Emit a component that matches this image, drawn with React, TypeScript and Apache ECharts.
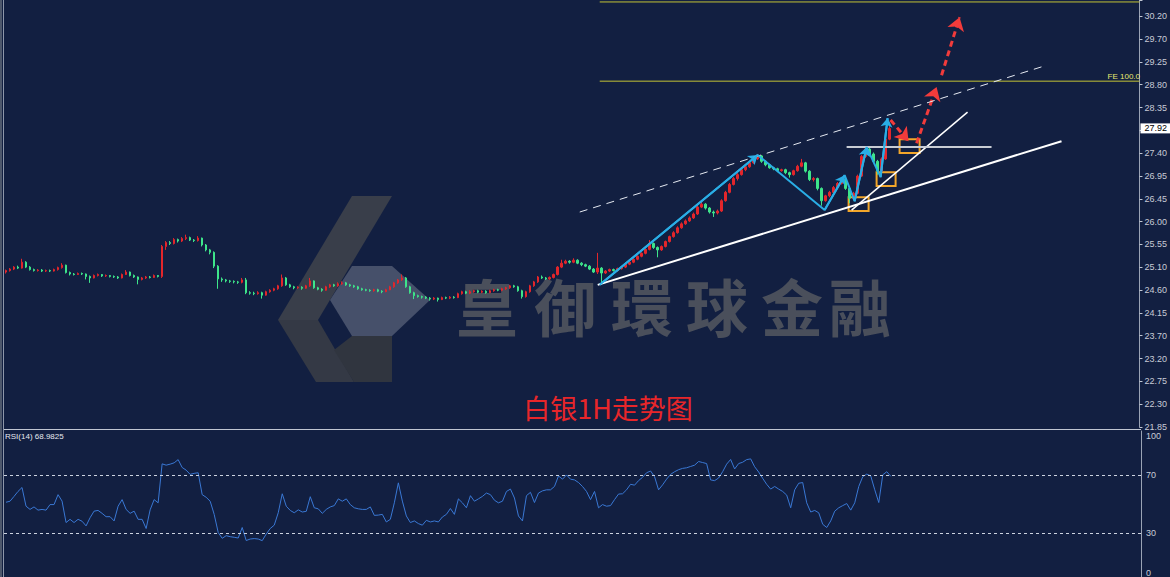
import React, { useEffect, useRef } from 'react';
import * as echarts from 'echarts';

// ---------- data ----------
const PRICE_MIN = 21.85;
const PRICE_MAX = 30.53;
const priceTickLabels = ['21.85', '22.30', '22.75', '23.20', '23.70', '24.15', '24.60', '25.10', '25.55', '26.00', '26.45', '26.95', '27.40', '27.85', '28.35', '28.80', '29.25', '29.70', '30.20'];
const rsiTickLabels = [0, 30, 70, 100];
const rsiLevels = [70, 30];
const SLOT_COUNT = 284;
const currentPrice = 27.92;
const rsiTitle = 'RSI(14) 68.9825';
const chartTitle = '白银1H走势图';
const watermarkChars = ['皇', '御', '環', '球', '金', '融'];

// [open, close, low, high]
const candles = [
  [25.00,25.03,24.97,25.05],[25.03,25.06,25.01,25.08],[25.06,25.10,25.04,25.12],[25.10,25.08,25.06,25.13],[25.08,25.20,25.07,25.27],
  [25.20,25.10,25.08,25.22],[25.10,25.05,25.03,25.12],[25.05,25.03,25.01,25.07],[25.03,25.04,25.01,25.06],[25.04,25.02,25.00,25.06],
  [25.02,25.03,25.00,25.05],[25.03,25.02,25.00,25.05],[25.02,25.05,25.01,25.07],[25.05,25.09,25.03,25.11],[25.09,25.14,25.07,25.18],
  [25.14,24.99,24.97,25.15],[24.99,24.96,24.93,25.01],[24.96,24.95,24.93,24.98],[24.95,24.97,24.94,24.99],[24.97,24.96,24.94,24.99],
  [24.96,24.91,24.85,24.97],[24.91,24.88,24.78,24.93],[24.88,24.93,24.87,24.95],[24.93,24.95,24.91,24.97],[24.95,24.92,24.90,24.96],
  [24.92,24.93,24.90,24.95],[24.93,24.91,24.89,24.94],[24.91,24.90,24.88,24.93],[24.90,24.88,24.86,24.92],[24.88,24.95,24.87,24.97],
  [24.95,25.00,24.94,25.04],[25.00,24.93,24.91,25.01],[24.93,24.90,24.88,24.95],[24.90,24.85,24.75,24.91],[24.85,24.88,24.83,24.90],
  [24.88,24.90,24.86,24.92],[24.90,24.89,24.87,24.92],[24.89,24.93,24.88,24.95],[24.93,24.91,24.89,24.94],[24.91,25.52,24.88,25.55],
  [25.52,25.60,25.45,25.63],[25.60,25.58,25.55,25.63],[25.58,25.66,25.56,25.69],[25.66,25.63,25.60,25.68],[25.63,25.68,25.61,25.71],
  [25.68,25.70,25.65,25.76],[25.70,25.65,25.63,25.72],[25.65,25.64,25.61,25.67],[25.64,25.69,25.62,25.73],[25.69,25.55,25.52,25.70],
  [25.55,25.45,25.42,25.57],[25.45,25.40,25.36,25.47],[25.40,25.12,25.08,25.42],[25.12,24.86,24.66,25.14],[24.86,24.84,24.80,24.89],
  [24.84,24.82,24.79,24.86],[24.82,24.81,24.78,24.84],[24.81,24.80,24.77,24.83],[24.80,24.79,24.76,24.82],[24.79,24.84,24.77,24.88],
  [24.84,24.58,24.55,24.88],[24.58,24.57,24.54,24.61],[24.57,24.56,24.53,24.60],[24.56,24.58,24.54,24.61],[24.58,24.53,24.46,24.60],
  [24.53,24.60,24.52,24.62],[24.60,24.63,24.58,24.65],[24.63,24.66,24.61,24.68],[24.66,24.72,24.64,24.74],[24.72,24.88,24.70,24.95],
  [24.88,24.74,24.72,24.90],[24.74,24.70,24.68,24.76],[24.70,24.68,24.65,24.72],[24.68,24.69,24.66,24.71],[24.69,24.67,24.64,24.71],
  [24.67,24.72,24.66,24.74],[24.72,24.82,24.70,24.88],[24.82,24.68,24.66,24.83],[24.68,24.65,24.63,24.70],[24.65,24.63,24.60,24.67],
  [24.63,24.70,24.62,24.72],[24.70,24.74,24.68,24.76],[24.74,24.72,24.70,24.76],[24.72,24.76,24.70,24.79],[24.76,24.78,24.74,24.81],
  [24.78,24.74,24.72,24.80],[24.74,24.72,24.70,24.76],[24.72,24.70,24.68,24.74],[24.70,24.66,24.64,24.72],[24.66,24.64,24.62,24.68],
  [24.64,24.63,24.61,24.66],[24.63,24.62,24.60,24.65],[24.62,24.64,24.60,24.66],[24.64,24.61,24.59,24.66],[24.61,24.60,24.57,24.63],
  [24.60,24.64,24.59,24.66],[24.64,24.70,24.63,24.72],[24.70,24.78,24.68,24.80],[24.78,24.84,24.76,24.86],[24.84,24.88,24.82,24.95],
  [24.88,24.70,24.68,24.90],[24.70,24.58,24.56,24.72],[24.58,24.52,24.45,24.60],[24.52,24.50,24.48,24.54],[24.50,24.49,24.46,24.52],
  [24.49,24.47,24.45,24.51],[24.47,24.45,24.42,24.49],[24.45,24.47,24.43,24.49],[24.47,24.44,24.40,24.48],[24.44,24.48,24.43,24.50],
  [24.48,24.47,24.45,24.50],[24.47,24.49,24.45,24.51],[24.49,24.48,24.46,24.51],[24.48,24.56,24.47,24.58],[24.56,24.60,24.54,24.62],
  [24.60,24.57,24.55,24.62],[24.57,24.60,24.55,24.63],[24.60,24.62,24.58,24.64],[24.62,24.59,24.57,24.64],[24.59,24.61,24.57,24.63],
  [24.61,24.58,24.56,24.63],[24.58,24.62,24.57,24.64],[24.62,24.64,24.60,24.66],[24.64,24.63,24.61,24.66],[24.63,24.66,24.61,24.68],
  [24.66,24.68,24.64,24.70],[24.68,24.72,24.66,24.74],[24.72,24.70,24.68,24.74],[24.70,24.62,24.60,24.72],[24.62,24.50,24.46,24.64],
  [24.50,24.60,24.48,24.62],[24.60,24.72,24.58,24.74],[24.72,24.80,24.70,24.82],[24.80,24.90,24.78,24.92],[24.90,24.88,24.86,24.93],
  [24.88,24.86,24.84,24.90],[24.86,24.89,24.84,24.91],[24.89,24.95,24.87,24.97],[24.95,25.10,24.93,25.12],[25.10,25.18,25.08,25.25],
  [25.18,25.22,25.16,25.25],[25.22,25.20,25.17,25.24],[25.20,25.24,25.18,25.28],[25.24,25.18,25.16,25.26],[25.18,25.15,25.12,25.20],
  [25.15,25.12,25.10,25.17],[25.12,25.06,25.04,25.14],[25.06,25.00,24.98,25.08],[25.00,25.08,24.96,25.39],[25.08,24.98,24.74,25.10],
  [24.98,25.02,24.96,25.04],[25.02,25.05,25.00,25.07],[25.05,25.03,25.01,25.07],[25.03,25.07,25.01,25.09],[25.07,25.10,25.05,25.12],
  [25.10,25.16,25.08,25.18],[25.16,25.20,25.14,25.22],[25.20,25.26,25.18,25.28],[25.26,25.32,25.24,25.34],[25.32,25.38,25.30,25.40],
  [25.38,25.46,25.36,25.48],[25.46,25.58,25.44,25.65],[25.58,25.50,25.47,25.60],[25.50,25.45,25.30,25.52],[25.45,25.52,25.43,25.54],
  [25.52,25.62,25.50,25.64],[25.62,25.72,25.60,25.74],[25.72,25.80,25.70,25.83],[25.80,25.90,25.78,25.93],[25.90,25.98,25.88,26.01],
  [25.98,26.04,25.96,26.07],[26.04,26.10,26.02,26.13],[26.10,26.18,26.08,26.21],[26.18,26.32,26.16,26.35],[26.32,26.38,26.30,26.45],
  [26.38,26.30,26.27,26.40],[26.30,26.22,26.19,26.32],[26.22,26.20,26.12,26.25],[26.20,26.24,26.17,26.27],[26.24,26.45,26.22,26.48],
  [26.45,26.62,26.43,26.65],[26.62,26.78,26.60,26.81],[26.78,26.90,26.76,26.93],[26.90,26.98,26.86,27.01],[26.98,27.08,26.96,27.11],
  [27.08,27.14,27.05,27.17],[27.14,27.22,27.12,27.25],[27.22,27.30,27.20,27.33],[27.30,27.36,27.28,27.40],[27.36,27.25,27.22,27.38],
  [27.25,27.18,27.15,27.27],[27.18,27.12,27.10,27.20],[27.12,27.10,27.07,27.14],[27.10,27.06,27.03,27.12],[27.06,27.08,27.04,27.10],
  [27.08,27.02,26.99,27.10],[27.02,26.98,26.92,27.04],[26.98,27.06,26.96,27.08],[27.06,27.15,27.04,27.18],[27.15,27.22,27.13,27.30],
  [27.22,27.05,27.02,27.24],[27.05,26.88,26.85,27.07],[26.88,26.90,26.84,26.93],[26.90,26.70,26.66,26.92],[26.70,26.45,26.35,26.72],
  [26.45,26.55,26.43,26.57],[26.55,26.62,26.52,26.65],[26.62,26.72,26.60,26.75],[26.72,26.80,26.70,26.83],[26.80,26.88,26.78,26.92],
  [26.88,26.70,26.67,26.90],[26.70,26.50,26.40,26.72],[26.50,26.60,26.46,26.63],[26.60,26.95,26.58,26.98],[26.95,27.35,26.93,27.38],
  [27.35,27.50,27.32,27.56],[27.50,27.40,27.37,27.53],[27.40,27.25,27.22,27.43],[27.25,27.05,26.98,27.28],[27.05,27.30,27.03,27.33],
  [27.30,27.70,27.28,27.73],[27.70,27.92,27.68,28.05],
];

const rsiValues = [
  51.2, 51.9, 55.2, 58.6, 61.3, 48.5, 46.3, 48.0, 45.8, 46.3,
  45.8, 49.6, 49.6, 56.4, 52.0, 37.3, 39.5, 37.3, 39.5, 38.2,
  35.0, 40.6, 45.1, 45.6, 43.6, 41.3, 41.3, 38.4, 48.5, 53.0,
  46.3, 43.6, 45.1, 39.5, 39.5, 33.2, 46.0, 53.0, 50.8, 77.5,
  76.6, 77.3, 78.2, 80.4, 75.0, 73.2, 70.3, 71.0, 71.4, 56.4,
  54.6, 51.9, 42.9, 30.5, 26.5, 28.3, 27.6, 27.2, 26.7, 33.9,
  25.0, 26.0, 26.3, 26.0, 24.9, 29.4, 33.2, 35.5, 44.0, 57.0,
  48.5, 45.6, 44.0, 46.0, 44.5, 45.0, 55.0, 47.4, 46.7, 43.6,
  46.3, 48.0, 48.9, 53.5, 51.9, 53.5, 49.6, 47.4, 46.7, 46.3,
  46.3, 48.0, 42.2, 42.4, 42.9, 37.7, 39.5, 50.8, 64.5, 52.0,
  41.8, 37.3, 38.4, 36.6, 35.5, 38.8, 37.7, 38.4, 37.7, 41.1,
  42.9, 46.9, 42.9, 53.5, 50.8, 47.4, 55.7, 51.9, 53.5, 55.2,
  57.5, 56.4, 52.6, 50.8, 51.9, 58.6, 60.2, 54.1, 41.8, 38.4,
  55.7, 58.0, 51.0, 57.5, 59.0, 59.7, 59.7, 62.0, 69.2, 67.0,
  69.9, 67.0, 66.5, 64.7, 62.0, 58.6, 53.0, 58.6, 47.4, 49.6,
  48.5, 48.9, 53.0, 56.8, 57.0, 59.7, 63.5, 62.9, 66.0, 68.3,
  71.4, 72.6, 68.7, 59.7, 63.1, 67.0, 70.3, 72.1, 73.5, 74.4,
  74.8, 75.7, 76.6, 79.1, 78.4, 77.7, 66.5, 66.0, 67.8, 72.1,
  77.3, 80.5, 74.0, 77.7, 78.6, 80.4, 80.9, 75.5, 71.9, 67.6,
  63.5, 60.2, 62.0, 60.2, 58.6, 56.1, 47.4, 59.7, 64.2, 64.7,
  50.8, 44.5, 45.6, 44.0, 36.1, 33.9, 38.4, 45.1, 47.4, 48.9,
  50.3, 45.8, 50.8, 62.0, 68.7, 70.5, 69.2, 59.7, 51.0, 70.0,
  72.1, 68.98,
];

// annotation lines, in [bar index, price]
const supportLine = [[148, 24.74], [264, 27.66]];
const channelLine = [[143.5, 26.22], [259.75, 29.19]];
const steepLine = [[211.5, 26.26], [240.5, 28.25]];
const flatLine = [[210.25, 27.54], [246.5, 27.54]];
const feLevels = [
  { label: '', price: 30.49, from: 148.5 },
  { label: 'FE 100.0', price: 28.88, from: 148.5 },
];
const zigzag = [
  [148.5, 24.74], [188, 27.38], [204.75, 26.26], [209.75, 26.97],
  [212.25, 26.44], [215.25, 27.54], [218.75, 26.93], [220.5, 28.13],
];
const zigzagArrowEnds = [1, 3, 5, 7];
const redArrows = [
  [[221.25, 28.09], [225.75, 27.66]],
  [[227.75, 27.62], [232.75, 28.76]],
  [[234.0, 29.0], [238.5, 30.18]],
];
const orangeBoxes = [
  [[210.75, 26.52], [215.75, 26.24]],
  [[217.75, 27.03], [222.5, 26.75]],
  [[223.5, 27.70], [228.5, 27.42]],
];

// ---------- component ----------
const AXIS_FONT = "'Liberation Sans Narrow', 'Liberation Sans', sans-serif";
const FE_COLOR = '#c2c236';

export default function App() {
  const ref = useRef<HTMLDivElement>(null);

  useEffect(() => {
    document.body.style.margin = '0';
    const chart = echarts.init(ref.current!, null, { renderer: 'svg' });
    const slots = Array.from({ length: SLOT_COUNT }, (_, i) => String(i));
    const labelStep = (parseFloat(priceTickLabels[priceTickLabels.length - 1]) - PRICE_MIN) / (priceTickLabels.length - 1);
    const labelMax = (PRICE_MAX - PRICE_MIN) / labelStep;

    const plainLine = (data: any[], color: string, width: number, type: any = 'solid', z = 5) => ({
      type: 'line', xAxisIndex: 1, yAxisIndex: 0, data, symbol: 'none', silent: true,
      lineStyle: { color, width, type }, z,
    });

    const option: any = {
      animation: false,
      backgroundColor: '#121f41',
      grid: [
        { left: 4, right: 29, top: 0, height: 427 },
        { left: 4, right: 29, top: 431, height: 148 },
      ],
      xAxis: [
        { type: 'category', gridIndex: 0, data: slots, show: false, boundaryGap: true },
        { type: 'value', gridIndex: 0, min: -0.5, max: SLOT_COUNT - 0.5, show: false },
        { type: 'category', gridIndex: 1, data: slots, show: false, boundaryGap: true },
      ],
      yAxis: [
        { type: 'value', gridIndex: 0, min: PRICE_MIN, max: PRICE_MAX, show: false, splitLine: { show: false } },
        {
          type: 'value', gridIndex: 0, position: 'right', min: 0, max: labelMax, interval: 1,
          splitLine: { show: false },
          axisLine: { show: true, lineStyle: { color: '#9aa3b5', width: 1 } },
          axisTick: { show: true, length: 3, lineStyle: { color: '#c0c6d2' } },
          axisLabel: {
            color: '#c8ccd6', fontSize: 9, fontFamily: AXIS_FONT, margin: 5,
            formatter: (v: number) => priceTickLabels[Math.round(v)] ?? '',
          },
        },
        {
          type: 'value', gridIndex: 1, position: 'right', min: 0, max: 100, interval: 10,
          splitLine: { show: false },
          axisLine: { show: true, lineStyle: { color: '#9aa3b5', width: 1 } },
          axisTick: { show: false },
          axisLabel: {
            color: '#c8ccd6', fontSize: 9, fontFamily: AXIS_FONT, margin: 5,
            verticalAlignMaxLabel: 'top', verticalAlignMinLabel: 'bottom',
            formatter: (v: number) => (rsiTickLabels.includes(v) ? String(v) : ''),
          },
        },
      ],
      graphic: [
        // watermark logo
        { type: 'polygon', z: 0, silent: true, shape: { points: [[352, 196], [392, 196], [318, 320], [278, 320]] }, style: { fill: '#393e4a' } },
        { type: 'polygon', z: 0, silent: true, shape: { points: [[278, 320], [318, 320], [354, 382], [316, 382]] }, style: { fill: '#343945' } },
        { type: 'polygon', z: 0, silent: true, shape: { points: [[352, 266], [392, 266], [430, 300], [392, 336], [352, 336], [330, 300]] }, style: { fill: '#46506a' } },
        { type: 'polygon', z: 0, silent: true, shape: { points: [[352, 336], [392, 336], [392, 382], [354, 382], [334, 350]] }, style: { fill: '#30353f' } },
        // watermark text
        ...watermarkChars.map((ch, i) => ({
          type: 'text', z: 0, silent: true,
          x: [487, 565, 642, 717, 792, 860][i], y: 305,
          style: { text: ch, fill: '#4a4f5b', fontSize: 62, fontWeight: 'bold', fontFamily: 'Noto Sans CJK TC', align: 'center', verticalAlign: 'middle' },
        })),
        // title
        {
          type: 'text', z: 10, x: 608, y: 407,
          style: { text: chartTitle, fill: '#e8262a', fontSize: 27, fontFamily: 'Noto Sans CJK SC', align: 'center', verticalAlign: 'middle' },
        },
        // RSI label
        {
          type: 'text', z: 10, x: 5, y: 432,
          style: { text: rsiTitle, fill: '#e6e9ef', fontSize: 8, fontFamily: AXIS_FONT, align: 'left', verticalAlign: 'top' },
        },
        // FE label
        ...feLevels.filter((lv) => lv.label !== '').map((lv) => ({
          type: 'text', z: 10, silent: true, x: 1140, y: 80,
          style: { text: lv.label, fill: '#e8e870', fontSize: 8, fontFamily: AXIS_FONT, align: 'right', verticalAlign: 'bottom' },
        })),
        // frame
        { type: 'line', z: 10, silent: true, shape: { x1: 4, y1: 429.5, x2: 1141, y2: 429.5 }, style: { stroke: '#c0c6d2', lineWidth: 1 } },
        { type: 'rect', z: 10, silent: true, shape: { x: 0, y: 0, width: 2, height: 577 }, style: { fill: '#4e586c' } },
        { type: 'line', z: 10, silent: true, shape: { x1: 3.5, y1: 0, x2: 3.5, y2: 577 }, style: { stroke: '#8d96a8', lineWidth: 1 } },
      ],
      series: [
        {
          type: 'candlestick', xAxisIndex: 0, yAxisIndex: 0, data: candles, barWidth: 2, z: 3,
          itemStyle: { color: '#e3262b', color0: '#3ee58a', borderColor: '#e3262b', borderColor0: '#3ee58a', borderWidth: 1 },
          markLine: {
            silent: true, symbol: 'none', animation: false,
            data: [{ yAxis: currentPrice }],
            lineStyle: { color: 'rgba(0,0,0,0)', width: 1, type: 'solid' },
            label: {
              show: true, position: 'end', distance: 1, formatter: currentPrice.toFixed(2),
              backgroundColor: '#ffffff', color: '#000000', fontSize: 9, fontFamily: AXIS_FONT, padding: [1, 4, 0, 4],
            },
          },
        },
        plainLine(channelLine, '#e6eaf2', 1, [8, 6]),
        plainLine(supportLine, '#ffffff', 2),
        plainLine(steepLine, '#ffffff', 1.5),
        plainLine(flatLine, '#c8ccd4', 2),
        ...feLevels.map((lv) => plainLine([[lv.from, lv.price], [SLOT_COUNT - 0.5, lv.price]], FE_COLOR, 1, 'solid', 4)),
        {
          type: 'line', xAxisIndex: 1, yAxisIndex: 0, data: zigzag, symbol: 'none', silent: true, z: 6,
          lineStyle: { color: '#2aaee6', width: 2 },
          markLine: {
            silent: true, animation: false, symbol: ['none', 'arrow'], symbolSize: 9,
            lineStyle: { color: '#2aaee6', width: 2, type: 'solid' },
            label: { show: false },
            data: zigzagArrowEnds.map((k) => [{ coord: zigzag[k - 1] }, { coord: zigzag[k] }]),
          },
        },
        {
          type: 'line', xAxisIndex: 1, yAxisIndex: 0, data: [], symbol: 'none', silent: true, z: 7,
          markLine: {
            silent: true, animation: false, symbol: ['none', 'arrow'], symbolSize: 13,
            lineStyle: { color: '#f23b3b', width: 3, type: [6, 4] },
            label: { show: false },
            data: redArrows.map(([a, b]) => [{ coord: a }, { coord: b }]),
          },
          markArea: {
            silent: true,
            itemStyle: { color: 'rgba(0,0,0,0)', borderColor: '#f2a62a', borderWidth: 2 },
            data: orangeBoxes.map(([a, b]) => [{ coord: a }, { coord: b }]),
          },
        },
        {
          type: 'line', xAxisIndex: 2, yAxisIndex: 2, data: rsiValues, symbol: 'none', silent: true,
          lineStyle: { color: '#3a78d4', width: 1 },
          markLine: {
            silent: true, animation: false, symbol: 'none',
            lineStyle: { color: '#cdd3e0', width: 1, type: [3, 3] },
            label: { show: false },
            data: rsiLevels.map((v) => ({ yAxis: v })),
          },
        },
      ],
    };

    chart.setOption(option);
    return () => chart.dispose();
  }, []);

  return (
    <div
      ref={ref}
      style={{ position: 'absolute', left: 0, top: 0, width: 1170, height: 577, background: '#121f41' }}
    />
  );
}
